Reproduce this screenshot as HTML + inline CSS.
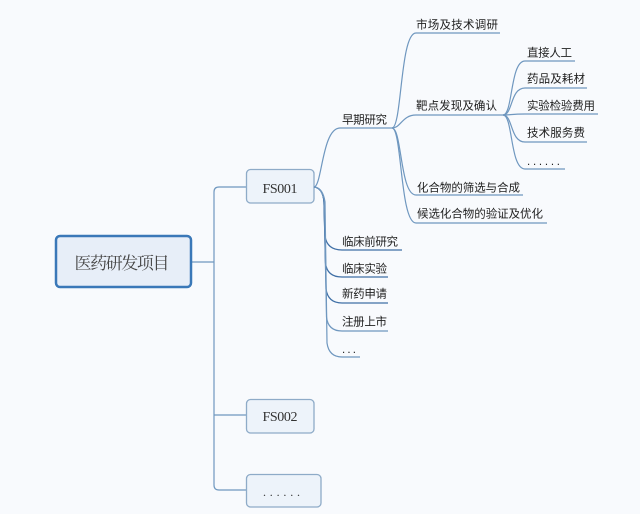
<!DOCTYPE html>
<html><head><meta charset="utf-8">
<style>
html,body{margin:0;padding:0;background:#f8fafd;}
svg{display:block;}
.t{font-family:"Liberation Sans","Noto Sans CJK SC",sans-serif;font-size:11.5px;fill:#1e1e1e;}
.ln{fill:none;stroke:#6f97bf;stroke-width:1.2;}
.dk{fill:none;stroke:#3f6fa6;stroke-width:1.2;}
</style></head>
<body>
<svg width="640" height="514" viewBox="0 0 640 514" xmlns="http://www.w3.org/2000/svg">
<rect width="640" height="514" fill="#f8fafd"/>

<!-- root connectors -->
<path class="ln" d="M192 262 H214"/>
<path class="ln" d="M246 187 H219 Q214 187 214 192 V485 Q214 490 219 490 H246"/>
<path class="ln" d="M214 415 H246"/>

<!-- root box -->
<rect x="56" y="236" width="135" height="51" rx="4" fill="#e7eef8" stroke="#3a78b8" stroke-width="2.5"/>
<text x="122" y="269" text-anchor="middle" font-family="'Noto Serif CJK SC','Liberation Serif',serif" font-size="17" fill="#444" textLength="95" lengthAdjust="spacing">医药研发项目</text>

<!-- FS boxes -->
<rect x="246.5" y="169.5" width="67.5" height="33.5" rx="4" fill="#edf3fa" stroke="#8eabc8" stroke-width="1.3"/>
<text x="280" y="193" text-anchor="middle" font-family="'Liberation Serif',serif" font-size="14" fill="#333" textLength="35" lengthAdjust="spacing">FS001</text>
<rect x="246.5" y="399.5" width="67.5" height="33.5" rx="4" fill="#edf3fa" stroke="#8eabc8" stroke-width="1.3"/>
<text x="280" y="421" text-anchor="middle" font-family="'Liberation Serif',serif" font-size="14" fill="#333" textLength="35" lengthAdjust="spacing">FS002</text>
<rect x="246.5" y="474.5" width="74.5" height="32.5" rx="4" fill="#edf3fa" stroke="#8eabc8" stroke-width="1.3"/>
<text x="263" y="496" font-family="'Liberation Serif',serif" font-size="12" fill="#333" textLength="37" lengthAdjust="spacing">......</text>

<!-- FS001 -> 早期研究 -->
<path class="ln" d="M314 187 C322 187 322 128 340 128 H392"/>
<!-- FS001 -> lower (shared trunk) -->
<path class="dk" d="M314 187 Q323 188 324 202 L325 236 Q327 250 342 250 H402"/>
<path class="dk" d="M314 187 Q323 188 324 202 L325.5 263 Q327 277 342 277 H388"/>
<path class="dk" d="M314 187 Q323 188 324 202 L326 289 Q328 303 342 303 H388"/>
<path class="ln" d="M314 187 Q323 188 324.5 202 L326.5 317 Q328 331 342 331 H388"/>
<path class="ln" d="M314 187 Q323 188 325 202 L327 343 Q329 357 342 357 H360"/>

<!-- 早期研究 children -->
<path class="ln" d="M392 128 C402 128 400 33 416 33 H500"/>
<path class="ln" d="M392 128 C401 128 402 115 416 115 H503"/>
<path class="ln" d="M392 128 C402 128 400 195 416 195 H523"/>
<path class="ln" d="M392 128 C402 128 400 223 416 223 H547"/>

<!-- 靶点 children -->
<path class="ln" d="M503 115 C513 115 510 61 525 61 H575"/>
<path class="ln" d="M503 115 C513 115 510 88 525 88 H587"/>
<path class="ln" d="M503 115 C510 115 512 114 525 114 H598"/>
<path class="ln" d="M503 115 C513 115 510 142 525 142 H587"/>
<path class="ln" d="M503 115 C513 115 510 169 525 169 H565"/>

<!-- labels -->
<text class="t" x="342" y="123.5" textLength="45" lengthAdjust="spacing">早期研究</text>
<text class="t" x="416" y="28.5" textLength="82" lengthAdjust="spacing">市场及技术调研</text>
<text class="t" x="416" y="109.5" textLength="81" lengthAdjust="spacing">靶点发现及确认</text>
<text class="t" x="417" y="191.5" textLength="103" lengthAdjust="spacing">化合物的筛选与合成</text>
<text class="t" x="417" y="217.5" textLength="126" lengthAdjust="spacing">候选化合物的验证及优化</text>

<text class="t" x="527" y="56.5" textLength="45" lengthAdjust="spacing">直接人工</text>
<text class="t" x="527" y="82.5" textLength="58" lengthAdjust="spacing">药品及耗材</text>
<text class="t" x="527" y="109.5" textLength="68" lengthAdjust="spacing">实验检验费用</text>
<text class="t" x="527" y="136.5" textLength="58" lengthAdjust="spacing">技术服务费</text>
<text class="t" x="527" y="165" textLength="33" lengthAdjust="spacing">......</text>

<text class="t" x="342" y="245.5" textLength="56" lengthAdjust="spacing">临床前研究</text>
<text class="t" x="342" y="272.5" textLength="45" lengthAdjust="spacing">临床实验</text>
<text class="t" x="342" y="297.5" textLength="45" lengthAdjust="spacing">新药申请</text>
<text class="t" x="342" y="325.5" textLength="45" lengthAdjust="spacing">注册上市</text>
<text class="t" x="342" y="353" textLength="14" lengthAdjust="spacing">...</text>
</svg>
</body></html>
